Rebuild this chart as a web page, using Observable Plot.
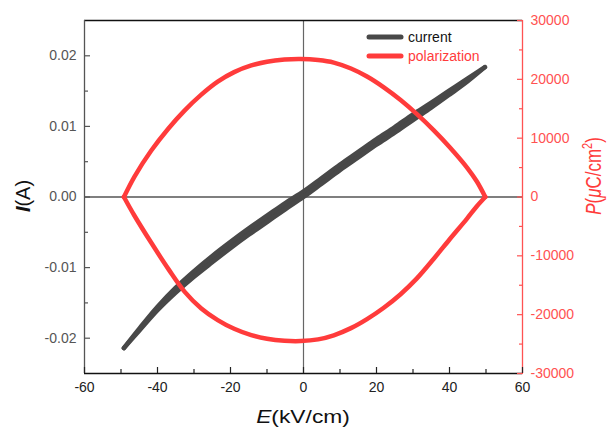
<!DOCTYPE html>
<html><head><meta charset="utf-8">
<script src="https://cdn.jsdelivr.net/npm/d3@7"></script>
<script src="https://cdn.jsdelivr.net/npm/@observablehq/plot@0.6"></script>
<style>
body{margin:0;background:#fff;}
#chart{position:relative;width:608px;height:429px;}
svg{font-family:"Liberation Sans",Arial,sans-serif;}
</style>
</head><body><div id="chart"></div>
<script>
// ---- data ----
const currentE     = [-49.2, -45, -40, -35, -30, -25, -20, -15, -10, -5, 0, 5, 10, 15, 20, 25, 30, 35, 40, 45, 49.7];
const currentUpper = [-0.0214, -0.01865, -0.01555, -0.01285, -0.0105, -0.00835, -0.00635, -0.00445, -0.00265, -0.00085, 0.0008, 0.0027, 0.0046, 0.0064, 0.0082, 0.0099, 0.0117, 0.01335, 0.0151, 0.0168, 0.0184];
const currentLower = [-0.0214, -0.01895, -0.01605, -0.01355, -0.0113, -0.00925, -0.00725, -0.00535, -0.00355, -0.00175, 0.0000, 0.0019, 0.0038, 0.0056, 0.0074, 0.0091, 0.0109, 0.01265, 0.0145, 0.0164, 0.0184];

const polE     = [-49.2, -46.3, -41.7, -37, -32.6, -28, -23.5, -19, -14.3, -10, -5.2, -0.8, 4, 8.3, 13, 17.4, 22, 26.6, 31, 35.7, 40, 44.8, 47.5, 49.8];
const polUpper = [0, 3480, 7900, 11650, 14690, 17400, 19610, 21230, 22360, 23000, 23360, 23450, 23280, 22850, 21840, 20480, 18640, 16480, 14120, 11330, 8510, 5010, 2630, 0];
const polLower = [0, -3190, -7790, -12260, -16080, -18940, -20920, -22400, -23480, -24100, -24440, -24490, -24200, -23510, -22290, -20750, -18820, -16520, -13880, -10490, -7220, -3670, -1570, 0];

const xTicks = [-60, -40, -20, 0, 20, 40, 60];
const xMinor = [-50, -30, -10, 10, 30, 50];
const iTicks = [-0.02, -0.01, 0, 0.01, 0.02];
const iMinor = [-0.015, -0.005, 0.005, 0.015];
const pTicks = [-30000, -20000, -10000, 0, 10000, 20000, 30000];
const pMinor = [-25000, -15000, -5000, 5000, 15000, 25000];

const xDomain = [-60, 60];
const iDomain = [-0.025, 0.025];
const pDomain = [-30000, 30000];

// ---- helpers ----
const pToI = p => iDomain[0] + (p - pDomain[0]) * (iDomain[1] - iDomain[0]) / (pDomain[1] - pDomain[0]);
const iToP = i => Math.round(pDomain[0] + (i - iDomain[0]) * (pDomain[1] - pDomain[0]) / (iDomain[1] - iDomain[0]));

const currentRows = currentE.map((E, k) => ({E, hi: currentUpper[k], lo: currentLower[k]}));
const currentLines = [
  ...currentE.map((E, k) => ({E, I: currentUpper[k], b: "up"})),
  ...currentE.map((E, k) => ({E, I: currentLower[k], b: "down"}))
];
const polLines = [
  ...polE.map((E, k) => ({E, P: polUpper[k], b: "up"})),
  ...polE.map((E, k) => ({E, P: polLower[k], b: "down"}))
];

const CUR = "#484848";
const RED = "#ff3b3b";
const RED_AX = "#ff5252";

const chart = Plot.plot({
  width: 608, height: 429,
  marginLeft: 84, marginRight: 86, marginTop: 20, marginBottom: 56,
  x: {domain: xDomain, label: null},
  y: {domain: iDomain, label: null},
  style: {fontFamily: "Liberation Sans, Arial, sans-serif", fontSize: "14px", background: "white"},
  marks: [
    Plot.ruleY([0], {stroke: "#000", strokeWidth: 1.2}),
    Plot.ruleX([0], {stroke: "#666", strokeWidth: 1.2}),
    Plot.areaY(currentRows, {x: "E", y1: "lo", y2: "hi", fill: CUR, curve: "catmull-rom"}),
    Plot.line(currentLines, {x: "E", y: "I", z: "b", stroke: CUR, strokeWidth: 4.5, strokeLinecap: "round", strokeLinejoin: "round", curve: "catmull-rom"}),
    Plot.line(polLines, {x: "E", y: d => pToI(d.P), z: "b", stroke: RED, strokeWidth: 4.5, strokeLinejoin: "round", curve: "catmull-rom"}),
    // frame
    Plot.ruleY([iDomain[1]], {stroke: "#111", strokeWidth: 1.3}),
    Plot.ruleY([iDomain[0]], {stroke: "#111", strokeWidth: 1.3}),
    Plot.ruleX([xDomain[0]], {stroke: "#555", strokeWidth: 1.3}),
    Plot.ruleX([xDomain[1]], {stroke: RED_AX, strokeWidth: 1.3}),
    // bottom axis
    Plot.axisX(xTicks, {anchor: "bottom", tickSize: 0, tickPadding: 9, fill: "#222", tickFormat: d => String(d), label: null}),
    Plot.axisX(xTicks, {anchor: "bottom", tickSize: -6, fill: "none", stroke: "#222", strokeWidth: 1.2}),
    Plot.axisX(xMinor, {anchor: "bottom", tickSize: -4, fill: "none", stroke: "#222", strokeWidth: 1.2}),
    // left axis
    Plot.axisY(iTicks, {anchor: "left", tickSize: 0, tickPadding: 8, fill: "#555", tickFormat: d => d.toFixed(2), label: null}),
    Plot.axisY(iTicks, {anchor: "left", tickSize: -6, fill: "none", stroke: "#555", strokeWidth: 1.2}),
    Plot.axisY(iMinor, {anchor: "left", tickSize: -4, fill: "none", stroke: "#555", strokeWidth: 1.2}),
    // right axis (polarization)
    Plot.axisY(pTicks.map(pToI), {anchor: "right", tickSize: 0, tickPadding: 8, fill: RED_AX, tickFormat: d => String(iToP(d)), label: null}),
    Plot.axisY(pTicks.map(pToI), {anchor: "right", tickSize: -6, fill: "none", stroke: RED_AX, strokeWidth: 1.2}),
    Plot.axisY(pMinor.map(pToI), {anchor: "right", tickSize: -4, fill: "none", stroke: RED_AX, strokeWidth: 1.2})
  ]
});
document.getElementById("chart").appendChild(chart);

// ---- titles and legend ----
const svg = d3.select(chart);
const ff = "Liberation Sans, Arial, sans-serif";

const xt = svg.append("text").attr("font-family", ff).attr("font-size", 19).attr("fill", "#111")
  .attr("text-anchor", "middle").attr("transform", "translate(303,423) scale(1.2,1)");
xt.append("tspan").attr("font-style", "italic").text("E");
xt.append("tspan").text("(kV/cm)");

const yt = svg.append("text").attr("font-family", ff).attr("font-size", 20).attr("fill", "#111")
  .attr("text-anchor", "middle").attr("transform", "translate(30,196) rotate(-90)");
yt.append("tspan").attr("font-style", "italic").attr("font-weight", "bold").text("I");
yt.append("tspan").text("(A)");

const pt = svg.append("text").attr("font-family", ff).attr("font-size", 17).attr("fill", RED)
  .attr("text-anchor", "middle").attr("transform", "translate(601,176) rotate(-90) scale(1,1.3)");
pt.append("tspan").attr("font-style", "italic").text("P");
pt.append("tspan").text("(");
pt.append("tspan").attr("font-style", "italic").text("μ");
pt.append("tspan").text("C/cm");
pt.append("tspan").attr("font-size", 11).attr("dy", -7).text("2");
pt.append("tspan").attr("dy", 7).text(")");

const legendItems = [{label: "current", color: CUR, text: "#111"}, {label: "polarization", color: RED, text: RED}];
const lg = svg.append("g").attr("font-family", ff).attr("font-size", 14).attr("text-anchor", "start");
legendItems.forEach((d, k) => {
  const y = 37 + k * 19;
  lg.append("line").attr("x1", 369).attr("x2", 401).attr("y1", y).attr("y2", y)
    .attr("stroke", d.color).attr("stroke-width", 5).attr("stroke-linecap", "round");
  lg.append("text").attr("x", 408).attr("y", y).attr("dy", "0.35em").attr("text-anchor", "start").attr("fill", d.text).text(d.label);
});
</script>
</body></html>
